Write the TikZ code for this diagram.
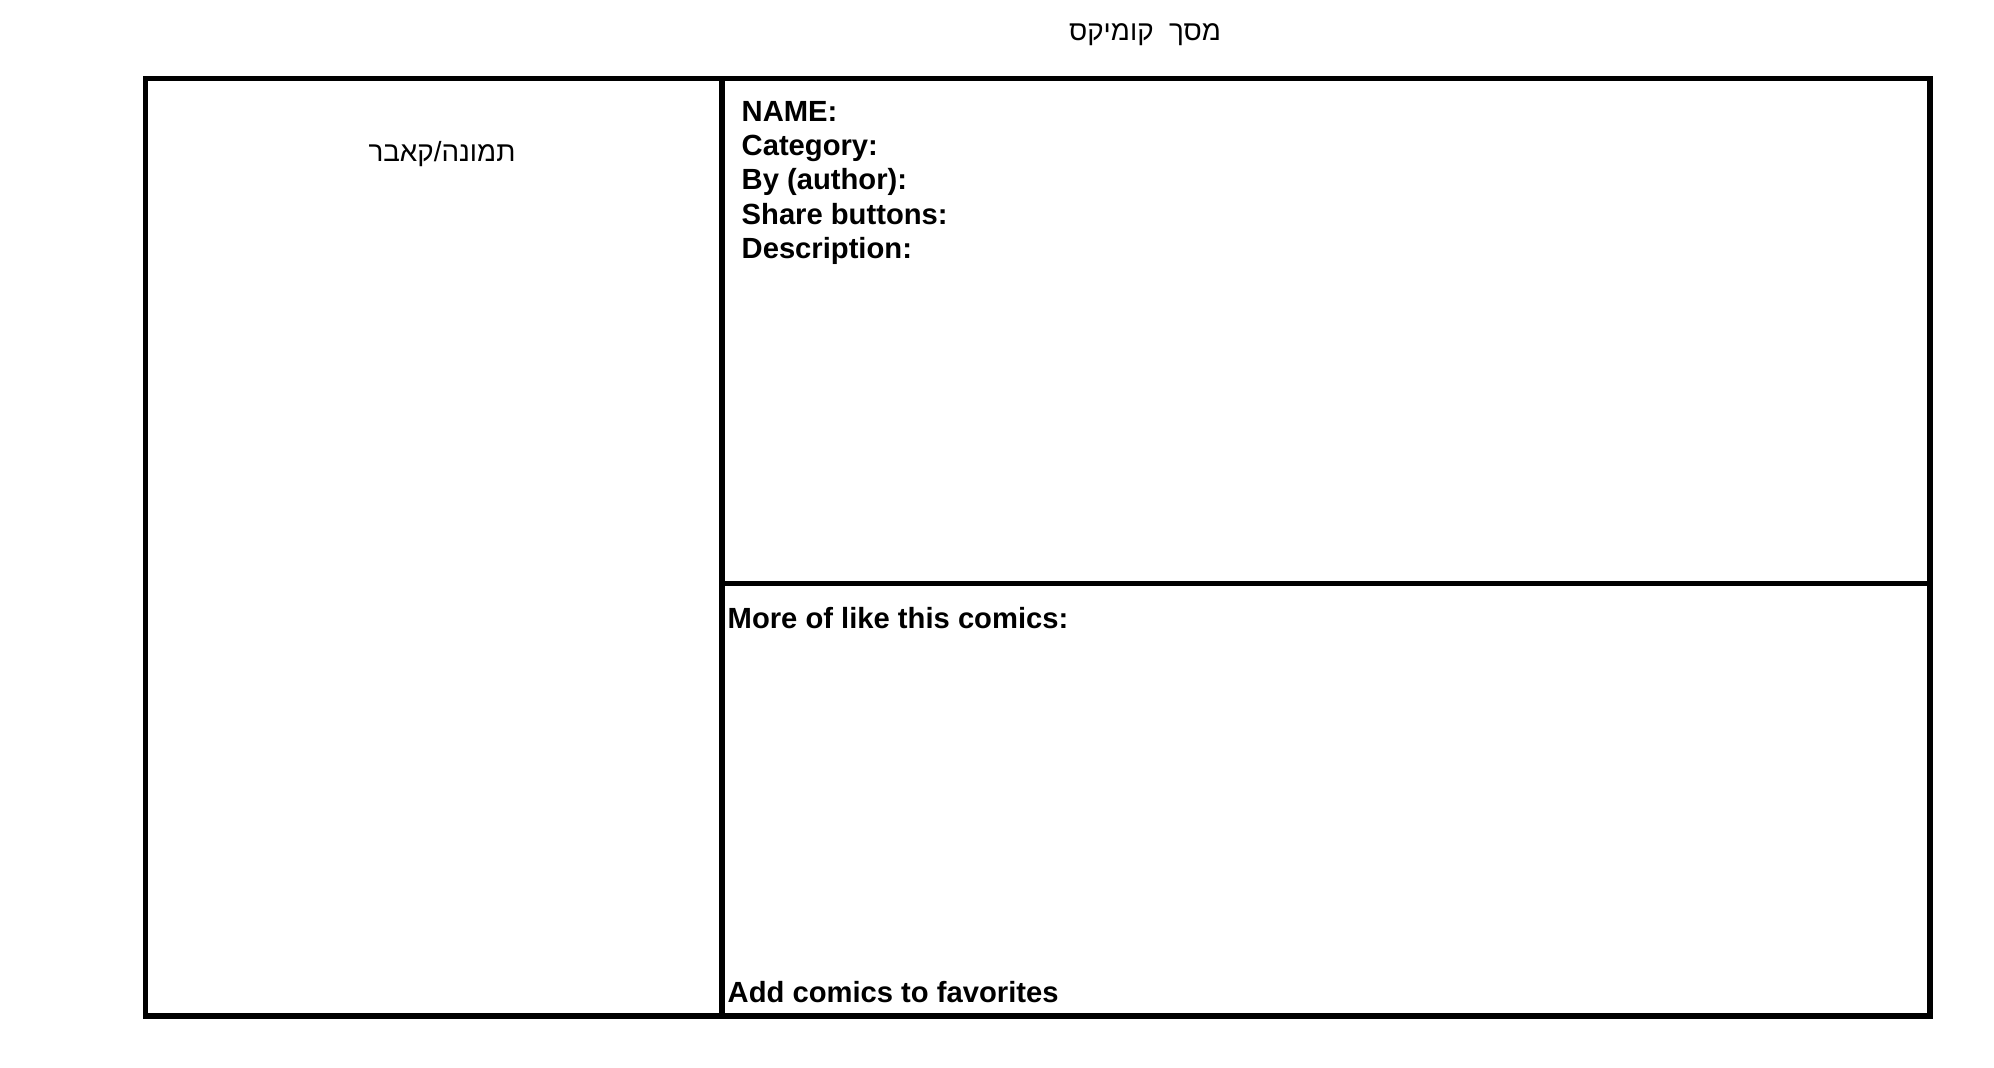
\documentclass[tikz,border=0pt]{standalone}
\usepackage{fontspec}
\setmainfont{Liberation Sans}
\newfontfamily\hebfont[Script=Hebrew]{Liberation Sans}
\TeXXeTstate=1
\usetikzlibrary{positioning}

\tikzset{
  panel/.style={draw,line width=1.6pt},
  field/.style={font=\bfseries\fontsize{8.3}{9.7}\selectfont,inner sep=0pt,align=left},
  heb/.style={font=\hebfont\fontsize{7.9}{9.5}\selectfont,inner sep=0pt}
}

\begin{document}
\begin{tikzpicture}[x=0.01cm,y=-0.01cm]
\useasboundingbox (0,0) rectangle (1994,1068);
% frame
\coordinate (tl) at (145.5,78.5);
\coordinate (br) at (1930,1016);
\coordinate (midtop) at (722,78.5);
\coordinate (midbot) at (722,1016);
\coordinate (splitl) at (722,583.5);
\coordinate (splitr) at (1930,583.5);
\draw[panel] (tl) rectangle (br);
\draw[panel] (midtop) -- (midbot);
\draw[panel] (splitl) -- (splitr);
% texts
\node[heb] (title) at (1145,35) {\beginR מסך\ \ קומיקס\endR};
\node[heb] (cover) at (442,154) {\beginR תמונה/קאבר\endR};
\node[field,anchor=north west] (info) at (741,101) {NAME:\\Category:\\By (author):\\Share buttons:\\Description:};
\node[field,anchor=west] (more) at (727,618) {More of like this comics:};
\node[field,anchor=west] (fav) at (727,992) {Add comics to favorites};
\end{tikzpicture}
\end{document}
